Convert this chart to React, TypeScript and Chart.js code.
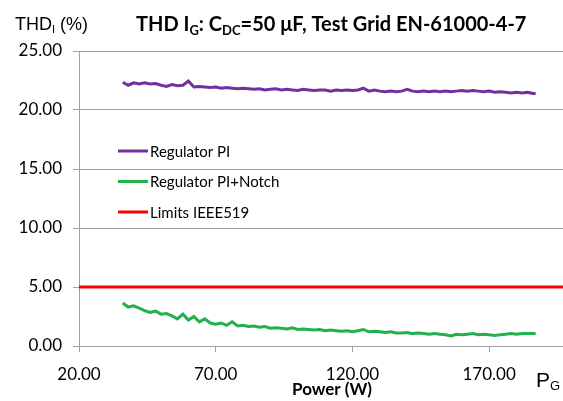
import React, { useEffect, useRef } from "react";
import { Chart, registerables } from "chart.js";

Chart.register(...registerables);

const powerW = [
  36, 38, 40, 42, 44, 46, 48, 50, 52, 54, 56, 58, 60, 62, 64, 66, 68, 70, 72, 74,
  76, 78, 80, 82, 84, 86, 88, 90, 92, 94, 96, 98, 100, 102, 104, 106, 108, 110, 112, 114,
  116, 118, 120, 122, 124, 126, 128, 130, 132, 134, 136, 138, 140, 142, 144, 146, 148, 150, 152, 154,
  156, 158, 160, 162, 164, 166, 168, 170, 172, 174, 176, 178, 180, 182, 184, 186, 187,
];

const thdPI = [
  22.35, 22.1, 22.3, 22.2, 22.3, 22.2, 22.25, 22.1, 22.0, 22.15, 22.05, 22.1, 22.45, 21.95, 22.0, 21.95, 21.9, 21.95, 21.85, 21.9,
  21.85, 21.8, 21.85, 21.8, 21.75, 21.8, 21.7, 21.75, 21.8, 21.7, 21.75, 21.7, 21.65, 21.75, 21.7, 21.65, 21.7, 21.7, 21.6, 21.7,
  21.65, 21.7, 21.65, 21.7, 21.85, 21.6, 21.7, 21.6, 21.55, 21.6, 21.55, 21.6, 21.75, 21.6, 21.55, 21.6, 21.55, 21.6, 21.55, 21.6,
  21.55, 21.6, 21.65, 21.6, 21.65, 21.6, 21.55, 21.6, 21.5, 21.55, 21.5, 21.45, 21.5, 21.45, 21.5, 21.4, 21.4,
];

const thdNotch = [
  3.65, 3.3, 3.4, 3.2, 3.0, 2.85, 2.95, 2.7, 2.75, 2.55, 2.3, 2.7, 2.2, 2.5, 2.05, 2.3, 1.95, 1.85, 1.95, 1.75,
  2.05, 1.7, 1.75, 1.65, 1.7, 1.6, 1.65, 1.5, 1.55, 1.5, 1.45, 1.55, 1.4, 1.45, 1.4, 1.35, 1.4, 1.3, 1.35, 1.3,
  1.25, 1.3, 1.2, 1.3, 1.4, 1.2, 1.25, 1.2, 1.15, 1.2, 1.1, 1.1, 1.15, 1.05, 1.1, 1.05, 1.0, 1.05, 1.0, 0.95,
  0.85, 1.0, 0.95, 1.0, 1.05, 0.95, 1.0, 0.95, 0.9, 0.95, 1.0, 1.05, 1.0, 1.05, 1.05, 1.05, 1.05,
];

const limitX = [20, 197];
const limitY = [5, 5];

const seriesLabels = ["Regulator PI", "Regulator PI+Notch", "Limits IEEE519"];
const seriesColors = ["#7030a0", "#22b14c", "#ff0000"];

const xTicks = [20, 70, 120, 170];
const xMin = 20;
const xMax = 197;
const yMin = 0;
const yMax = 25;
const yStep = 5;

type Run = { t: string; font: string; dy: number };

function drawRuns(ctx: CanvasRenderingContext2D, runs: Run[], x: number, y: number) {
  let cx = x;
  for (const r of runs) {
    ctx.font = r.font;
    ctx.fillText(r.t, cx, y + r.dy);
    cx += ctx.measureText(r.t).width;
  }
}

const textPlugin = {
  id: "customTexts",
  afterDraw(chart: any) {
    const ctx: CanvasRenderingContext2D = chart.ctx;
    const area = chart.chartArea;
    ctx.save();
    ctx.fillStyle = "#000";
    ctx.textBaseline = "alphabetic";
    ctx.textAlign = "left";
    // Title
    const tb = "bold 20px Lato";
    const ts = "bold 13px Lato";
    drawRuns(
      ctx,
      [
        { t: "THD I", font: tb, dy: 0 },
        { t: "G", font: ts, dy: 4 },
        { t: ": C", font: tb, dy: 0 },
        { t: "DC", font: ts, dy: 4 },
        { t: "=50 μF, Test Grid EN-61000-4-7", font: tb, dy: 0 },
      ],
      136,
      31
    );
    // Y axis label
    drawRuns(
      ctx,
      [
        { t: "THD", font: "18px 'Liberation Sans'", dy: 0 },
        { t: "I", font: "11px 'Liberation Sans'", dy: 3 },
        { t: " (%)", font: "18px 'Liberation Sans'", dy: 0 },
      ],
      15,
      30
    );
    // P_G label
    drawRuns(
      ctx,
      [
        { t: "P", font: "21px 'Liberation Sans'", dy: 0 },
        { t: "G", font: "13px 'Liberation Sans'", dy: 3 },
      ],
      536,
      387
    );
    // X axis title
    ctx.font = "bold 17px Lato";
    ctx.textAlign = "center";
    ctx.fillText("Power (W)", 332, 395);
    // Legend
    ctx.textAlign = "left";
    ctx.textBaseline = "middle";
    ctx.font = "15px Lato";
    chart.data.datasets.forEach((ds: any, i: number) => {
      const ly = area.top + 100 + i * 30.5;
      const lx = area.left + 39;
      ctx.strokeStyle = ds.borderColor;
      ctx.lineWidth = 3;
      ctx.beginPath();
      ctx.moveTo(lx, ly);
      ctx.lineTo(lx + 30, ly);
      ctx.stroke();
      ctx.fillStyle = "#000";
      ctx.fillText(ds.label, lx + 32, ly + 1);
    });
    ctx.restore();
  },
};

export default function App() {
  const ref = useRef<HTMLCanvasElement>(null);

  useEffect(() => {
    document.body.style.margin = "0";
    const canvas = ref.current;
    if (!canvas) return;
    const chart = new Chart(canvas, {
      type: "scatter",
      data: {
        datasets: [
          {
            label: seriesLabels[0],
            data: powerW.map((x, i) => ({ x, y: thdPI[i] })),
            borderColor: seriesColors[0],
            backgroundColor: seriesColors[0],
            borderWidth: 3,
            showLine: true,
            pointRadius: 0,
          },
          {
            label: seriesLabels[1],
            data: powerW.map((x, i) => ({ x, y: thdNotch[i] })),
            borderColor: seriesColors[1],
            backgroundColor: seriesColors[1],
            borderWidth: 3,
            showLine: true,
            pointRadius: 0,
          },
          {
            label: seriesLabels[2],
            data: limitX.map((x, i) => ({ x, y: limitY[i] })),
            borderColor: seriesColors[2],
            backgroundColor: seriesColors[2],
            borderWidth: 3,
            showLine: true,
            pointRadius: 0,
          },
        ],
      },
      options: {
        responsive: false,
        animation: false,
        devicePixelRatio: 1,
        layout: { padding: { top: 51, left: 0, right: 0, bottom: 0 } },
        plugins: {
          legend: { display: false },
          tooltip: { enabled: false },
          title: { display: false },
        },
        scales: {
          x: {
            type: "linear",
            min: xMin,
            max: xMax,
            afterBuildTicks: (scale: any) => {
              scale.ticks = xTicks.map((v) => ({ value: v }));
            },
            afterFit: (scale: any) => {
              scale.height = 55;
            },
            ticks: {
              font: { family: "Lato", size: 17 },
              color: "#000",
              padding: 12,
              maxRotation: 0,
              autoSkip: false,
              callback: (v: any) => Number(v).toFixed(2),
            },
            grid: {
              drawOnChartArea: false,
              drawTicks: true,
              tickLength: 6,
              color: "#a0a0a0",
            },
            border: { display: true, color: "#a0a0a0", width: 1 },
          },
          y: {
            type: "linear",
            min: yMin,
            max: yMax,
            afterFit: (scale: any) => {
              scale.width = 79;
            },
            ticks: {
              stepSize: yStep,
              font: { family: "Lato", size: 17 },
              color: "#000",
              padding: 11,
              callback: (v: any) => Number(v).toFixed(2),
            },
            grid: {
              drawOnChartArea: true,
              drawTicks: true,
              tickLength: 6,
              color: "#a0a0a0",
            },
            border: { display: true, color: "#a0a0a0", width: 1 },
          },
        },
      },
      plugins: [textPlugin],
    } as any);
    return () => chart.destroy();
  }, []);

  return (
    <div style={{ width: 563, height: 401, background: "#fff" }}>
      <canvas ref={ref} width={563} height={401} style={{ display: "block" }} />
    </div>
  );
}
